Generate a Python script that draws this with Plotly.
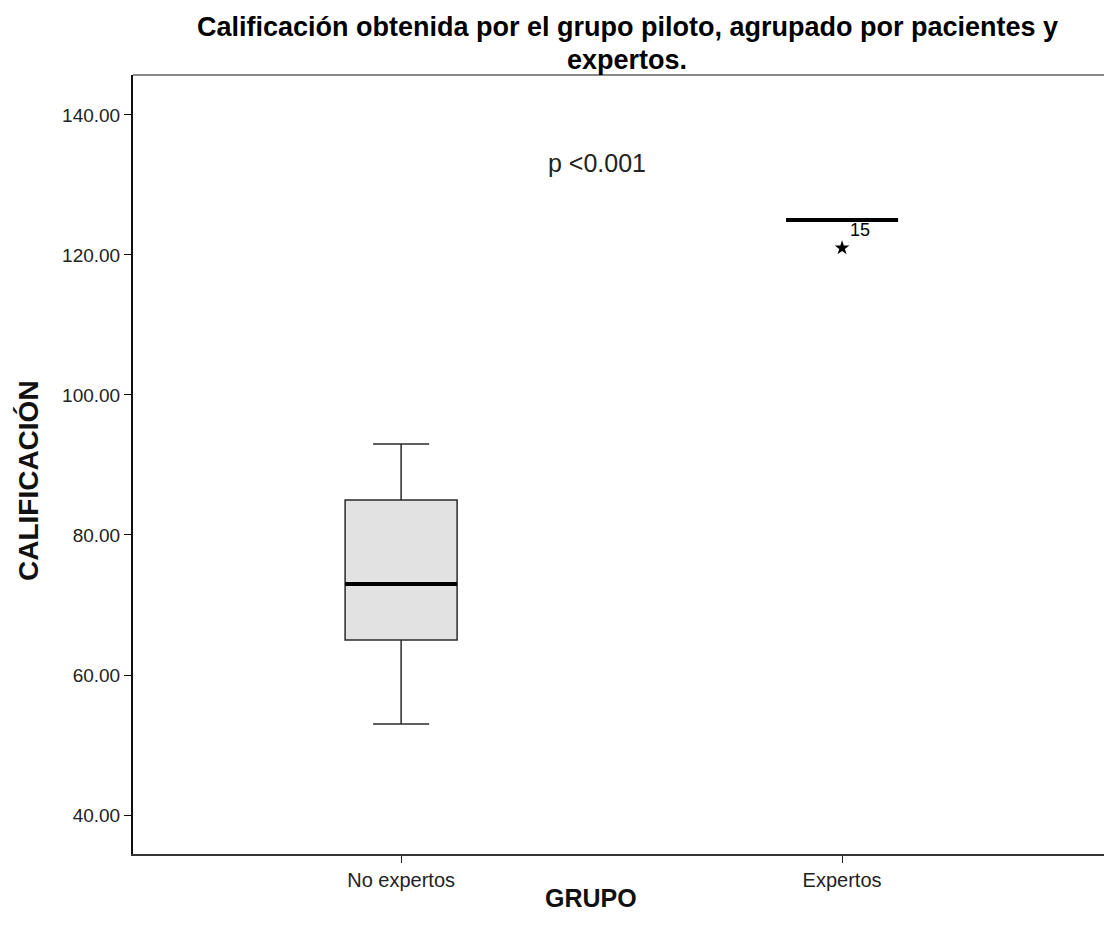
import plotly.graph_objects as go

groups = ["No expertos", "Expertos"]
lower_fence = [53, 125]
q1 = [65, 125]
median = [73, 125]
q3 = [85, 125]
upper_fence = [93, 125]
outlier_group = ["Expertos"]
outlier_value = [121]
outlier_label = ["15"]
y_ticks = [40, 60, 80, 100, 120, 140]

title_lines = ["Calificación obtenida por el grupo piloto, agrupado por pacientes y", "expertos."]
x_title = "GRUPO"
y_title = "CALIFICACIÓN"
p_text = "p <0.001"

font_family = "Liberation Sans, Arial, sans-serif"

fig = go.Figure()
fig.add_trace(go.Box(
    x=groups, q1=q1, median=median, q3=q3,
    lowerfence=lower_fence, upperfence=upper_fence,
    width=0.254, whiskerwidth=0.5,
    fillcolor="#e2e2e2", line=dict(color="#2a2a2a", width=1.5),
    boxpoints=False, showlegend=False, hoverinfo="skip",
))
# thick median lines
fig.add_trace(go.Scatter(
    x=groups, y=median, mode="markers",
    marker=dict(symbol="line-ew", size=80, color="black",
                line=dict(color="black", width=4)),
    showlegend=False, hoverinfo="skip",
))
# outlier
fig.add_trace(go.Scatter(
    x=outlier_group, y=outlier_value, mode="markers+text",
    marker=dict(symbol="star", size=11, color="black"),
    text=outlier_label, textposition="top right",
    textfont=dict(family=font_family, size=18, color="black"),
    showlegend=False, hoverinfo="skip",
))

fig.add_annotation(x=0.444, y=133.1, xref="x", yref="y", text=p_text,
                   showarrow=False, font=dict(family=font_family, size=25, color="#222"))

# title (two lines)
fig.add_annotation(x=0.5088, y=1.0616, xref="paper", yref="paper", text=title_lines[0],
                   showarrow=False, xanchor="center", yanchor="middle",
                   font=dict(family=font_family, size=27, color="black", weight="bold"))
fig.add_annotation(x=0.5088, y=1.0193, xref="paper", yref="paper", text=title_lines[1],
                   showarrow=False, xanchor="center", yanchor="middle",
                   font=dict(family=font_family, size=27, color="black", weight="bold"))
# axis titles
fig.add_annotation(x=0.4717, y=-0.0565, xref="paper", yref="paper", text=x_title,
                   showarrow=False, xanchor="center", yanchor="middle",
                   font=dict(family=font_family, size=25, color="#111", weight="bold"))
fig.add_annotation(x=-0.1081, y=0.4788, xref="paper", yref="paper", text=y_title,
                   showarrow=False, xanchor="center", yanchor="middle", textangle=-90,
                   font=dict(family=font_family, size=28, color="#111", weight="bold"))

# top frame line
fig.add_shape(type="line", xref="paper", yref="paper", x0=0, x1=1, y0=1, y1=1,
              line=dict(color="#888888", width=2))

fig.update_layout(
    width=1104, height=930,
    margin=dict(l=133, r=0, t=75, b=76),
    paper_bgcolor="white", plot_bgcolor="white",
    font=dict(family=font_family, color="black"),
    xaxis=dict(type="category", range=[-0.608, 1.594], showline=True,
               linecolor="#333", linewidth=2, ticks="outside", ticklen=7,
               tickcolor="#222", showgrid=False, zeroline=False,
               tickfont=dict(size=20, color="#222")),
    yaxis=dict(range=[34.43, 145.71], tickvals=y_ticks, tickformat=".2f",
               showline=True, linecolor="#111", linewidth=2, ticks="outside",
               ticklen=7, tickcolor="#111", showgrid=False, zeroline=False,
               tickfont=dict(size=19, color="#222")),
)

fig.write_html("out.html", config={"displayModeBar": False},
               post_script="document.body.style.margin='0';")
